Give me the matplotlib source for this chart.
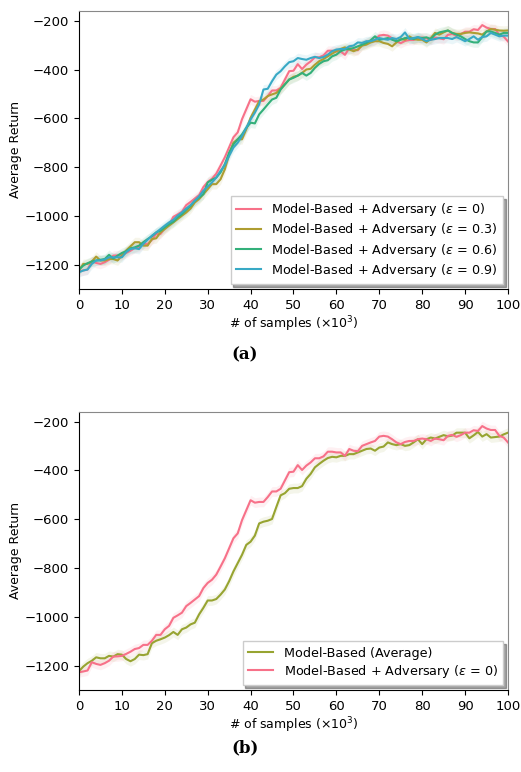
import numpy as np
import matplotlib.pyplot as plt
import seaborn as sns

steps = np.arange(0, 101)

# eps = 0 (same run in both panels)
adv_e0 = [-1227, -1224, -1220, -1186, -1193, -1197, -1190, -1180, -1163, -1162,
          -1160, -1152, -1143, -1132, -1128, -1115, -1115, -1098, -1074, -1074,
          -1051, -1037, -1004, -994, -983, -956, -943, -929, -915, -882,
          -861, -848, -827, -794, -760, -719, -678, -658, -604, -563,
          -522, -532, -529, -529, -509, -486, -486, -475, -441, -407,
          -405, -378, -398, -380, -367, -350, -350, -342, -323, -323,
          -326, -326, -340, -312, -319, -321, -299, -292, -285, -279,
          -261, -258, -261, -272, -285, -292, -283, -279, -279, -272,
          -269, -272, -279, -269, -272, -276, -258, -254, -262, -255,
          -245, -245, -235, -238, -218, -228, -234, -234, -258, -265, -285]

adv_e03 = [-1224, -1197, -1197, -1187, -1167, -1183, -1183, -1177, -1177, -1183,
           -1163, -1142, -1125, -1108, -1108, -1122, -1122, -1095, -1092, -1068,
           -1054, -1040, -1027, -1013, -999, -986, -970, -945, -931, -911,
           -891, -870, -870, -850, -809, -748, -700, -686, -686, -645,
           -598, -564, -530, -523, -509, -502, -496, -479, -461, -441,
           -430, -425, -414, -400, -397, -380, -366, -357, -346, -335,
           -325, -316, -309, -318, -325, -318, -302, -298, -289, -284,
           -284, -291, -295, -305, -289, -275, -278, -264, -275, -278,
           -278, -289, -271, -250, -257, -248, -240, -250, -254, -254,
           -250, -248, -250, -252, -257, -244, -234, -237, -240, -241, -240]

adv_e06 = [-1220, -1204, -1194, -1187, -1183, -1180, -1177, -1160, -1175, -1163,
           -1152, -1145, -1133, -1129, -1122, -1108, -1095, -1084, -1068, -1061,
           -1047, -1034, -1024, -1006, -993, -975, -959, -938, -925, -911,
           -863, -852, -843, -822, -788, -741, -707, -686, -666, -639,
           -618, -621, -584, -564, -543, -523, -516, -482, -461, -441,
           -434, -425, -414, -425, -414, -393, -377, -366, -362, -346,
           -339, -325, -318, -316, -312, -305, -298, -291, -280, -264,
           -278, -275, -271, -278, -284, -278, -271, -271, -275, -268,
           -271, -268, -275, -257, -248, -244, -240, -250, -257, -264,
           -275, -284, -289, -289, -267, -244, -244, -250, -257, -250, -250]

adv_e09 = [-1231, -1224, -1220, -1197, -1183, -1183, -1179, -1170, -1170, -1170,
           -1170, -1149, -1136, -1133, -1136, -1115, -1098, -1081, -1068, -1054,
           -1040, -1027, -1016, -999, -986, -970, -956, -938, -920, -897,
           -880, -863, -843, -816, -792, -754, -720, -700, -673, -639,
           -605, -577, -543, -482, -479, -448, -421, -407, -387, -370,
           -366, -353, -357, -360, -353, -348, -353, -349, -339, -325,
           -318, -316, -316, -305, -302, -289, -291, -284, -284, -278,
           -271, -275, -278, -271, -275, -267, -248, -275, -271, -267,
           -275, -284, -278, -275, -271, -271, -271, -275, -267, -275,
           -284, -275, -264, -278, -267, -264, -250, -257, -264, -261, -261]

mb_avg = [-1223, -1204, -1190, -1180, -1166, -1170, -1170, -1160, -1163, -1153,
          -1155, -1173, -1182, -1173, -1155, -1157, -1153, -1108, -1098, -1092,
          -1085, -1075, -1062, -1074, -1051, -1044, -1031, -1024, -990, -963,
          -933, -933, -927, -909, -888, -854, -814, -780, -746, -705,
          -692, -667, -617, -610, -606, -599, -550, -502, -493, -475,
          -472, -472, -464, -434, -414, -387, -373, -360, -349, -344,
          -346, -340, -340, -333, -333, -326, -319, -312, -310, -319,
          -306, -302, -285, -292, -296, -292, -299, -296, -285, -272,
          -292, -272, -265, -269, -262, -255, -260, -257, -245, -245,
          -245, -268, -256, -242, -261, -251, -265, -263, -261, -252, -245]

labels_a = [r'Model-Based + Adversary ($\varepsilon$ = 0)',
            r'Model-Based + Adversary ($\varepsilon$ = 0.3)',
            r'Model-Based + Adversary ($\varepsilon$ = 0.6)',
            r'Model-Based + Adversary ($\varepsilon$ = 0.9)']
labels_b = ['Model-Based (Average)',
            r'Model-Based + Adversary ($\varepsilon$ = 0)']

spread = 20  # half width of the shaded band

pal = sns.color_palette('husl', 5)
olive = sns.color_palette('husl', 8)[2]


def style_axes(ax):
    ax.set_xlim(0, 100)
    ax.set_ylim(-1300, -160)
    ax.set_xticks(range(0, 101, 10))
    ax.set_yticks([-1200, -1000, -800, -600, -400, -200])
    ax.tick_params(labelsize=9.5)
    ax.spines['top'].set_color('#888888')
    ax.spines['right'].set_color('#888888')
    ax.set_xlabel(r'# of samples ($\times 10^3$)', fontsize=9, labelpad=2)
    ax.set_ylabel('Average Return', fontsize=9, labelpad=1.5)


def draw(ax, y, c, label):
    y = np.array(y, dtype=float)
    ax.fill_between(steps, y - spread, y + spread, color=c, alpha=0.1, lw=0)
    ax.plot(steps, y, color=c, lw=1.5, label=label)


def add_legend(ax):
    ax.legend(loc='lower right', shadow=True, fancybox=False, framealpha=1,
              edgecolor='#cccccc', fontsize=9.2, labelspacing=0.25,
              handlelength=2.0, borderaxespad=0.4)


fig = plt.figure(figsize=(5.21, 7.72), dpi=100)
ax1 = fig.add_axes([0.1516, 0.6256, 0.8234, 0.3602])
ax2 = fig.add_axes([0.1516, 0.1062, 0.8234, 0.3602])

for y, c, lab in zip([adv_e0, adv_e03, adv_e06, adv_e09], pal[:4], labels_a):
    draw(ax1, y, c, lab)
style_axes(ax1)
add_legend(ax1)

draw(ax2, mb_avg, olive, labels_b[0])
draw(ax2, adv_e0, pal[0], labels_b[1])
style_axes(ax2)
add_legend(ax2)

fig.text(0.47, 0.540, '(a)', ha='center', va='center', fontsize=12,
         fontweight='bold', family='DejaVu Serif')
fig.text(0.47, 0.031, '(b)', ha='center', va='center', fontsize=12,
         fontweight='bold', family='DejaVu Serif')

plt.savefig('out.png', dpi=100)
